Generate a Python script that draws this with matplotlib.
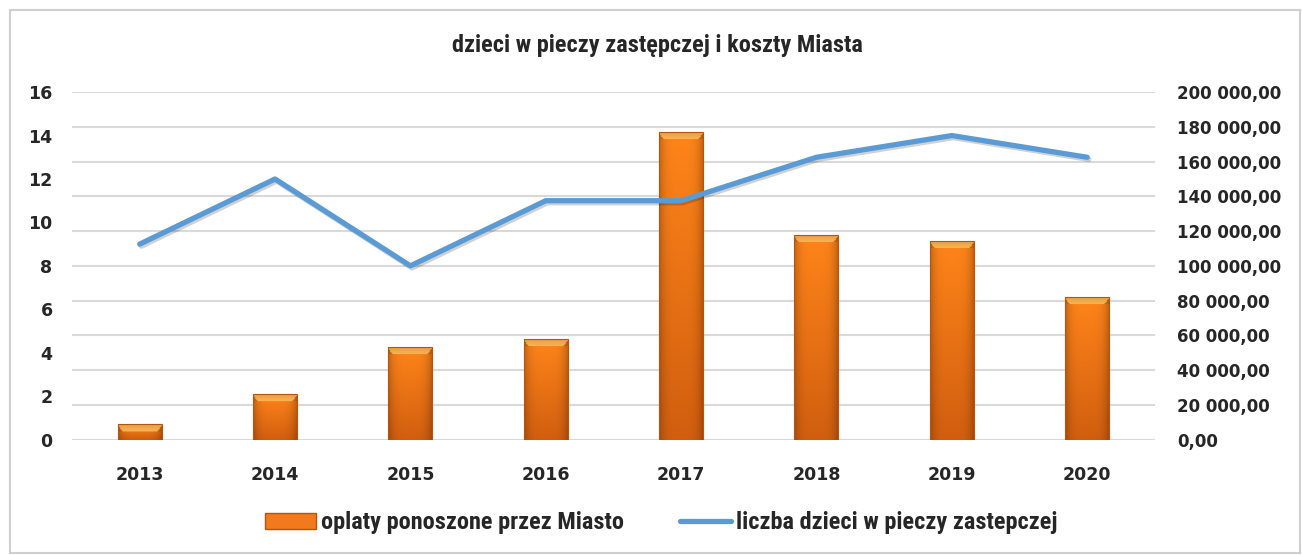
import numpy as np
import matplotlib
matplotlib.use("Agg")
import matplotlib.pyplot as plt
import matplotlib.patheffects as pe
from matplotlib import font_manager
from matplotlib.patches import Patch, Rectangle
from matplotlib.lines import Line2D
from matplotlib.ticker import FuncFormatter, MultipleLocator

# dane
lata = ["2013", "2014", "2015", "2016", "2017", "2018", "2019", "2020"]
liczba_dzieci = [9, 12, 8, 11, 11, 13, 14, 13]
oplaty = [9200, 26000, 53400, 58000, 177000, 117800, 114100, 82200]

tytul = "dzieci w pieczy zastępczej i koszty Miasta"
etykieta_oplaty = "oplaty ponoszone przez Miasto"
etykieta_dzieci = "liczba dzieci w pieczy zastepczej"

# waski krój dla tytulu i legendy, jesli jest dostepny
available = {f.name for f in font_manager.fontManager.ttflist}
narrow = None
for name in ["Liberation Sans Narrow", "DejaVu Sans Condensed", "Roboto Condensed",
             "Open Sans Condensed", "Noto Sans Condensed"]:
    if name in available:
        narrow = name
        break
if narrow:
    head_font, head_size, leg_size = [narrow, "DejaVu Sans"], 17.5, 17.5
else:
    head_font, head_size, leg_size = ["DejaVu Sans"], 13.5, 13.5

orange = "#F07A1C"
blue = "#5B9BD5"
grid_col = "#D9D9D9"
txt = "#262626"


def pln(v, pos=None):
    s = f"{v:,.2f}"
    return s.replace(",", " ").replace(".", ",")


def bar_gradient(nrows, ncols=40, bevel=7):
    # pionowy gradient + ciemniejsze krawedzie + jasny skos na gorze
    t = np.linspace(0, 1, nrows)[:, None]
    top = np.array([1.00, 0.52, 0.10])
    bot = np.array([0.82, 0.37, 0.06])
    img = top[None, None, :] * (1 - t[..., None]) + bot[None, None, :] * t[..., None]
    img = np.repeat(img, ncols, axis=1)
    xs = np.linspace(-1, 1, ncols)
    edge = 1 - 0.22 * np.abs(xs) ** 4
    img = img * edge[None, :, None]
    b = min(bevel, max(nrows // 2, 1))
    for r in range(b):
        inset = int(ncols * 0.12 * (r / max(b, 1)))
        hi = np.array([1.0, 0.70, 0.32])
        img[r, inset:ncols - inset] = hi * (0.9 + 0.1 * r / max(b, 1))
        img[r, :inset] = img[r, :inset] * 0.9
        img[r, ncols - inset:] = img[r, ncols - inset:] * 0.9
    return np.clip(img, 0, 1)


fig = plt.figure(figsize=(13.02, 5.55), dpi=100)
fig.patches.append(Rectangle((0.0077, 0.004), 0.991, 0.978, transform=fig.transFigure,
                             facecolor="white", edgecolor="#CFCFCF", lw=1.5, zorder=-10))

ax = fig.add_axes([0.0553, 0.208, 0.8317, 0.626])
ax.set_facecolor("none")
x = np.arange(len(lata))
bw = 0.325
ymax_r = 200000

# slupki na osi prawej (koszty)
bars = ax.bar(x, oplaty, width=bw, color=orange, edgecolor="none", zorder=3)
px_per_unit = 347.5 / ymax_r
for rect, val in zip(bars, oplaty):
    nrows = max(int(val * px_per_unit), 2)
    im = ax.imshow(bar_gradient(nrows), extent=[rect.get_x(), rect.get_x() + bw, 0, val],
                   aspect="auto", origin="upper", zorder=4, interpolation="bilinear")
    im.set_clip_path(rect)
    ax.add_patch(Rectangle((rect.get_x(), 0), bw, val, fill=False,
                           edgecolor="#B8520C", lw=0.8, zorder=5))

ax.set_xlim(-0.5, len(lata) - 0.5)
ax.set_ylim(0, ymax_r)
ax.yaxis.set_major_locator(MultipleLocator(20000))
ax.yaxis.set_major_formatter(FuncFormatter(pln))
ax.grid(axis="y", color=grid_col, lw=1.5, zorder=0)
ax.set_axisbelow(True)
ax.set_xticks(x)
ax.set_xticklabels(lata)
for s in ax.spines.values():
    s.set_visible(False)

# linia na osi lewej (liczba dzieci)
ax2 = ax.twinx()
ax2.plot(x, liczba_dzieci, color=blue, lw=3.8, solid_capstyle="round", solid_joinstyle="round",
         zorder=6, path_effects=[pe.SimpleLineShadow(offset=(1.2, -1.5), alpha=0.18),
                                 pe.Normal()])
ax2.set_ylim(0, 16)
ax2.yaxis.set_major_locator(MultipleLocator(2))
for s in ax2.spines.values():
    s.set_visible(False)

# twinx przestawia osie, wiec strony ustawiamy na koncu
ax.yaxis.tick_right()
ax2.yaxis.tick_left()
ax.tick_params(axis="y", which="both", left=False, right=True, labelleft=False,
               labelright=True, length=0, pad=16, labelsize=12, labelcolor=txt)
ax.tick_params(axis="x", length=0, pad=19, labelsize=12.5, labelcolor=txt)
ax2.tick_params(axis="y", which="both", left=True, right=False, labelleft=True,
                labelright=False, length=0, pad=14, labelsize=12.5, labelcolor=txt)
for lab in ax.get_yticklabels() + ax.get_xticklabels() + ax2.get_yticklabels():
    lab.set_fontweight("bold")

fig.text(0.505, 0.918, tytul, ha="center", va="center", fontsize=head_size, fontweight="bold",
         family=head_font, color=txt)

handles = [Patch(facecolor=orange, edgecolor="#B8520C"),
           Line2D([0], [0], color=blue, lw=3.8, solid_capstyle="round")]
fig.legend(handles, [etykieta_oplaty, etykieta_dzieci], loc="center",
           bbox_to_anchor=(0.508, 0.058), ncol=2, frameon=False, handlelength=2.1,
           handleheight=0.65, handletextpad=0.2, columnspacing=2.3,
           prop={"family": head_font, "weight": "bold", "size": leg_size})
for t in fig.legends[0].get_texts():
    t.set_color(txt)

fig.savefig("out.png", dpi=100)
